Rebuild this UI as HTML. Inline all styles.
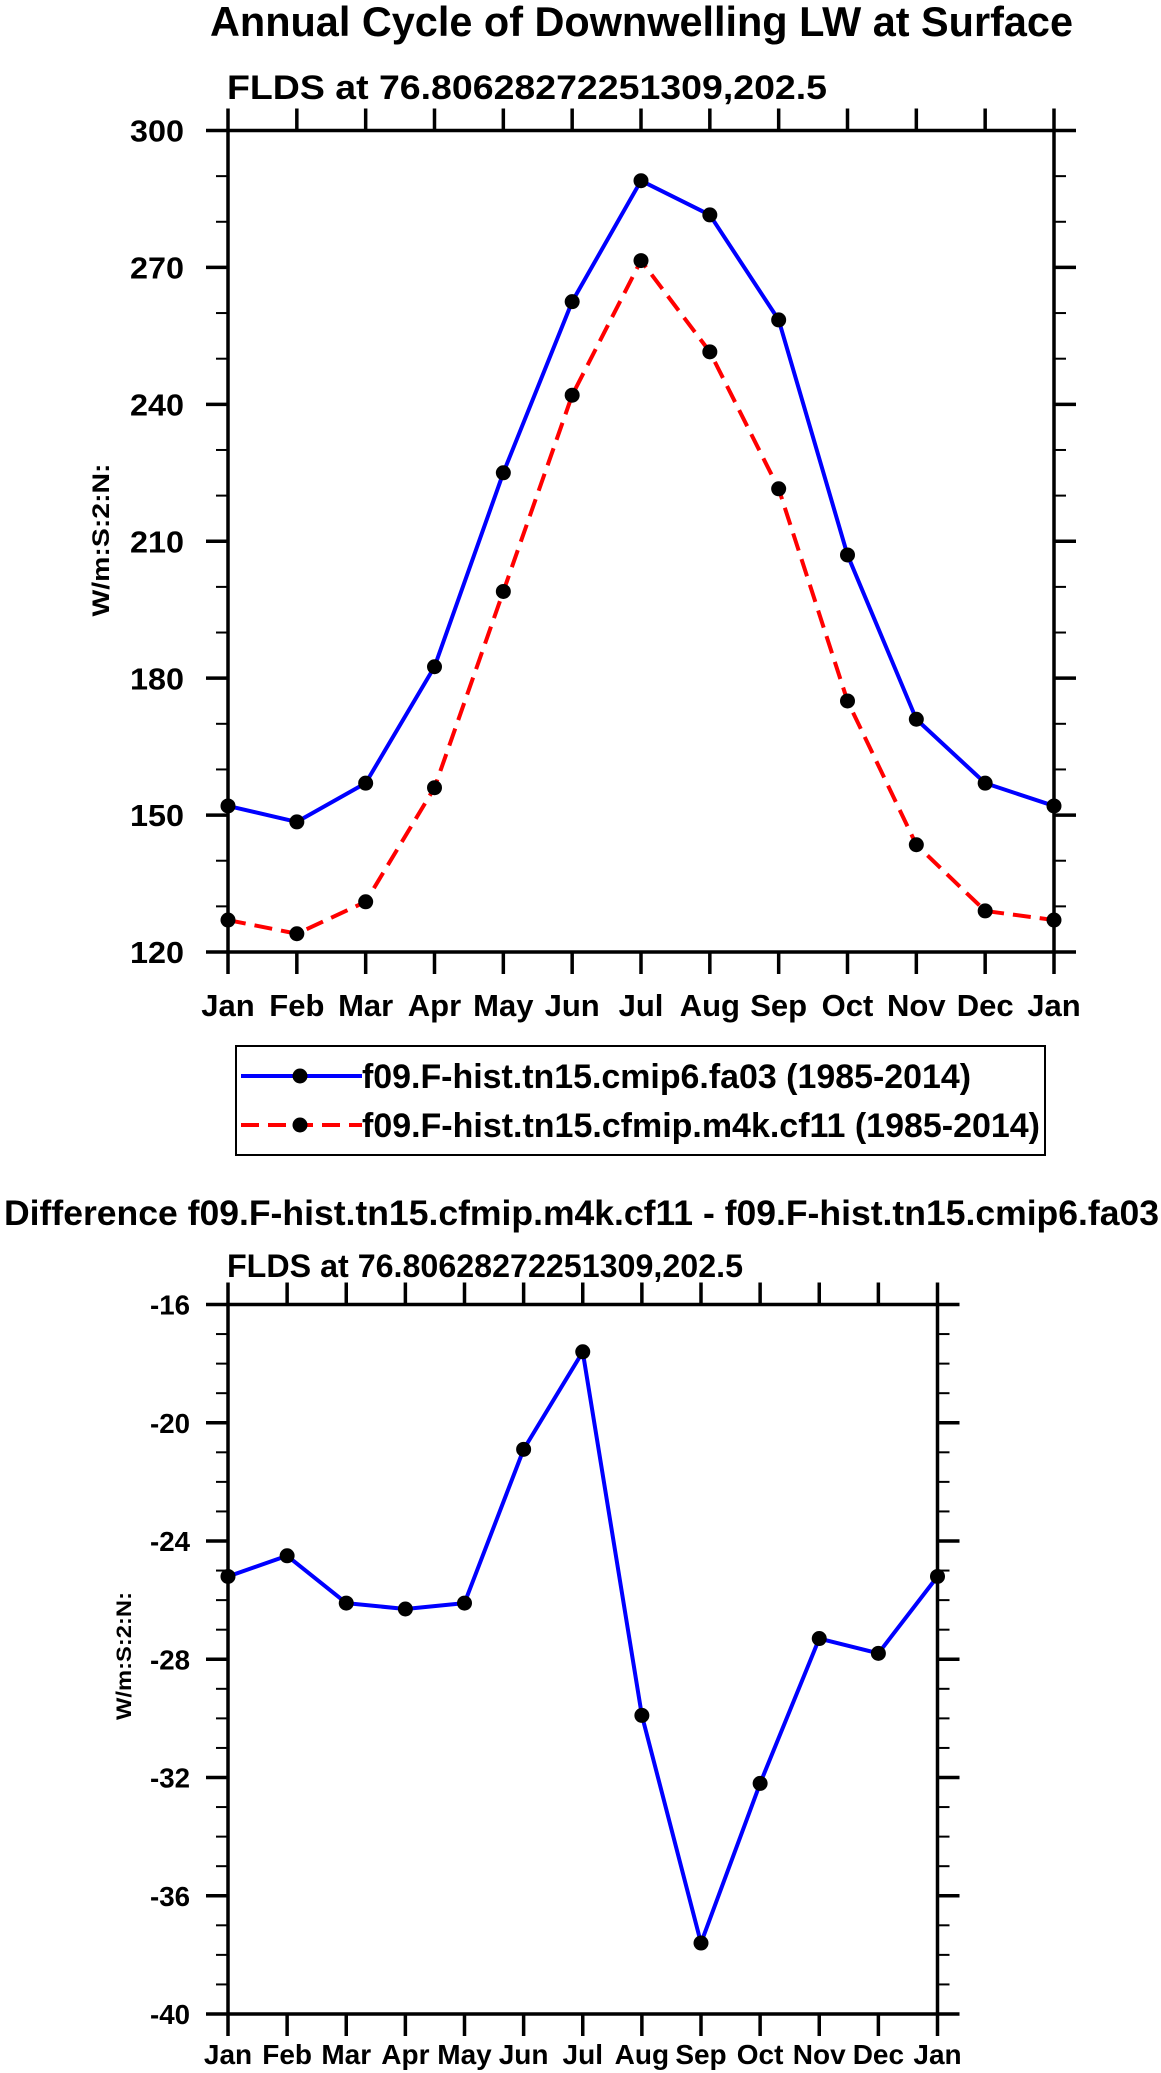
<!DOCTYPE html>
<html><head><meta charset="utf-8"><style>
html,body{margin:0;padding:0;background:#fff;}
svg{display:block;font-family:"Liberation Sans",Arial,sans-serif;font-weight:bold;}
</style></head><body>
<svg id="s" width="1161" height="2073" viewBox="0 0 1161 2073">
<text x="210" y="36" font-size="42" textLength="863" lengthAdjust="spacingAndGlyphs">Annual Cycle of Downwelling LW at Surface</text>
<text x="227" y="99" font-size="34" textLength="600" lengthAdjust="spacingAndGlyphs">FLDS at 76.80628272251309,202.5</text>
<text transform="translate(109,540) rotate(-90)" text-anchor="middle" font-size="24" textLength="153" lengthAdjust="spacingAndGlyphs">W/m:S:2:N:</text>
<g>
<rect x="236" y="1046" width="809" height="109" fill="none" stroke="#000" stroke-width="2"/>
<g>
<line x1="241" y1="1076" x2="362" y2="1076" stroke="#0000ff" stroke-width="4"/>
<circle cx="300" cy="1076" r="7.5" fill="#000"/>
<text x="362" y="1088" font-size="34" textLength="609" lengthAdjust="spacingAndGlyphs">f09.F-hist.tn15.cmip6.fa03 (1985-2014)</text>
</g>
<g>
<line x1="241" y1="1125" x2="362" y2="1125" stroke="#ff0000" stroke-width="4" stroke-dasharray="18,9"/>
<circle cx="300" cy="1125" r="7.5" fill="#000"/>
<text x="362" y="1137" font-size="34" textLength="678" lengthAdjust="spacingAndGlyphs">f09.F-hist.tn15.cfmip.m4k.cf11 (1985-2014)</text>
</g>
</g>
<text x="4" y="1225" font-size="35" textLength="1155" lengthAdjust="spacingAndGlyphs">Difference f09.F-hist.tn15.cfmip.m4k.cf11 - f09.F-hist.tn15.cmip6.fa03</text>
<text x="227" y="1277" font-size="32" textLength="516" lengthAdjust="spacingAndGlyphs">FLDS at 76.80628272251309,202.5</text>
<text transform="translate(131,1656) rotate(-90)" text-anchor="middle" font-size="21" textLength="128" lengthAdjust="spacingAndGlyphs">W/m:S:2:N:</text>
</svg>
<script>
const months = ["Jan","Feb","Mar","Apr","May","Jun","Jul","Aug","Sep","Oct","Nov","Dec","Jan"];
const controlValues = [152,148.5,157,182.5,225,262.5,289,281.5,258.5,207,171,157,152];
const m4kValues = [127,124,131,156,199,242,271.5,251.5,221.5,175,143.5,129,127];
const diffValues = [-25.2,-24.5,-26.1,-26.3,-26.1,-20.9,-17.6,-29.9,-37.6,-32.2,-27.3,-27.8,-25.2];
const topTicks = [120,150,180,210,240,270,300];
const bottomTicks = [-40,-36,-32,-28,-24,-20,-16];

const NS="http://www.w3.org/2000/svg";
const svg=document.getElementById('s');
function mk(tag,attrs,parent){const e=document.createElementNS(NS,tag);for(const k in attrs)e.setAttribute(k,attrs[k]);(parent||svg).appendChild(e);return e;}

function chart(o){
  const g=mk('g',{});
  
  
  const xs=i=>o.L+(o.R-o.L)*i/(months.length-1);
  const ys=v=>o.B-(o.B-o.T)*(v-o.min)/(o.max-o.min);
  for(let v=o.min;v<=o.max+1e-9;v+=o.minor){
    const y=ys(v);
    mk('line',{x1:o.L-12,y1:y,x2:o.L,y2:y,stroke:'#000','stroke-width':2},g);
    mk('line',{x1:o.R,y1:y,x2:o.R+12,y2:y,stroke:'#000','stroke-width':2},g);
  }
  o.ticks.forEach(v=>{
    const y=ys(v);
    mk('line',{x1:o.L-22,y1:y,x2:o.L,y2:y,stroke:'#000','stroke-width':3.5},g);
    mk('line',{x1:o.R,y1:y,x2:o.R+22,y2:y,stroke:'#000','stroke-width':3.5},g);
    const t=mk('text',{x:o.labR,y:y+o.fs*0.36,'font-size':o.fs,'text-anchor':'end',textLength:o.ylw,lengthAdjust:'spacingAndGlyphs'},g);
    t.textContent=v;
    
    
  });
  months.forEach((m,i)=>{
    const x=xs(i);
    mk('line',{x1:x,y1:o.B,x2:x,y2:o.B+22,stroke:'#000','stroke-width':3.5},g);
    mk('line',{x1:x,y1:o.T-22,x2:x,y2:o.T,stroke:'#000','stroke-width':3.5},g);
    const t=mk('text',{x:x,y:o.xlabY,'font-size':o.fs,'text-anchor':'middle'},g);
    t.textContent=m;
    
    
  });
  const fr=mk('rect',{x:o.L,y:o.T,width:o.R-o.L,height:o.B-o.T,fill:'none',stroke:'#000','stroke-width':3.5},g);
  
  
  o.series.forEach(s=>{
    const p=mk('polyline',{points:s.vals.map((v,i)=>xs(i)+','+ys(v)).join(' '),fill:'none',stroke:s.color,'stroke-width':4,'stroke-dasharray':s.dash||'none','stroke-linejoin':'round'},g);
    
    
    s.vals.forEach((v,i)=>{
      const c=mk('circle',{cx:xs(i),cy:ys(v),r:7.5,fill:'#000'},g);
      
      
    });
  });
}
chart({name:'top-chart',L:228,R:1054,T:130.5,B:952,min:120,max:300,minor:10,ticks:topTicks,labR:184,fs:31,ylw:54,xlabY:1016,
  series:[{name:'control',vals:controlValues,color:'#0000ff'},{name:'m4k',vals:m4kValues,color:'#ff0000',dash:'18,9'}]});
chart({name:'bottom-chart',L:228,R:937.5,T:1304.5,B:2014,min:-40,max:-16,minor:1,ticks:bottomTicks,labR:190,fs:28,ylw:40,xlabY:2064,
  series:[{name:'difference',vals:diffValues,color:'#0000ff'}]});
</script>
</body></html>
